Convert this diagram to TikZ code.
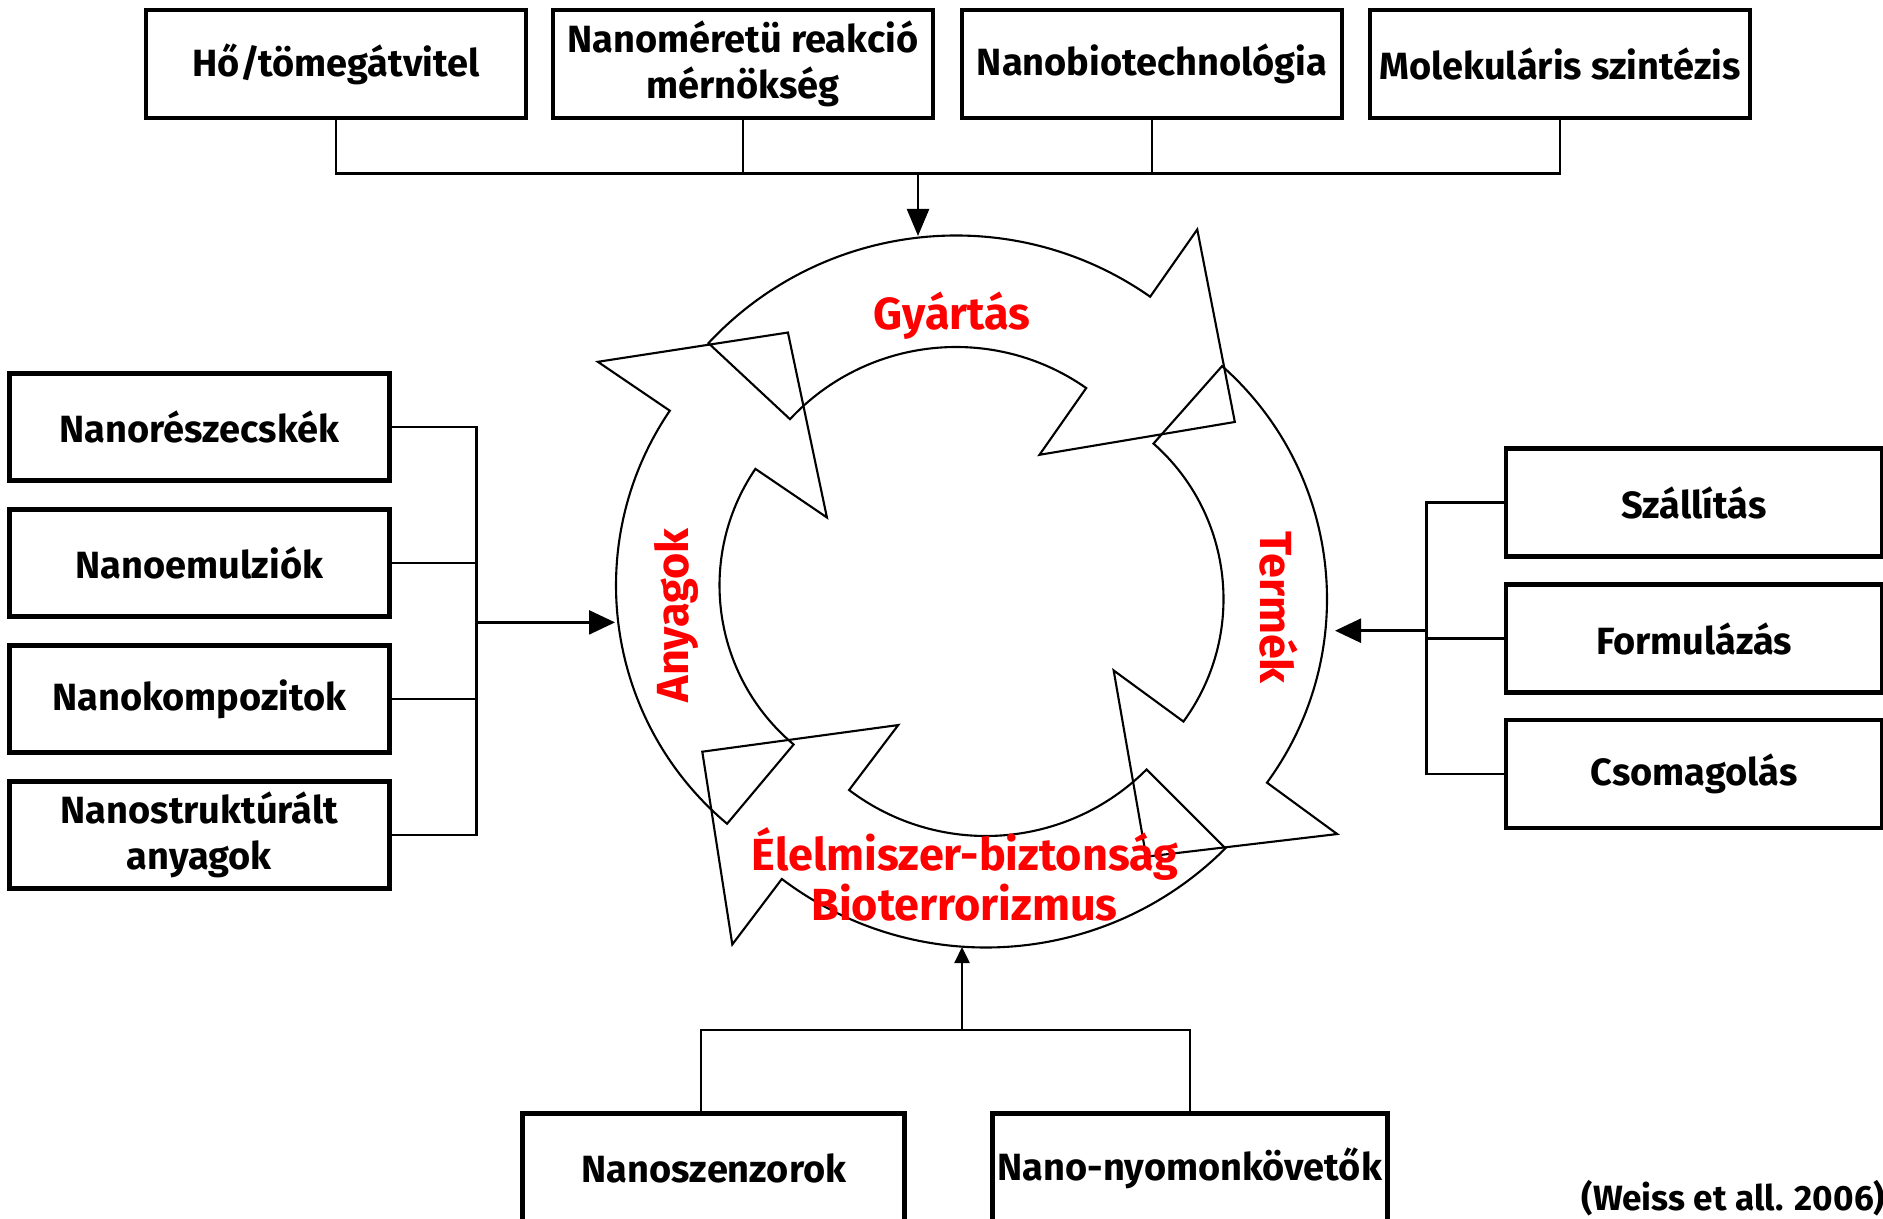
\documentclass[tikz,border=0pt]{standalone}
\usepackage{fontspec}
\setmainfont{Fira Sans}
\usetikzlibrary{arrows.meta}

\tikzset{
  box/.style={draw, line width=1.4pt, minimum width=3.8cm, minimum height=1.08cm,
    inner sep=0pt, align=center, font=\fontsize{10.8}{13}\selectfont\bfseries},
  link/.style={line width=0.7pt},
  feed/.style={line width=0.7pt, -{Triangle[length=2.6mm, width=2.4mm]}},
  smallfeed/.style={line width=0.7pt, -{Triangle[length=1.6mm, width=1.5mm]}},
  ring/.style={line width=0.6pt, line join=miter},
  phase/.style={text=red, inner sep=0pt, font=\fontsize{12.8}{14}\selectfont\bfseries},
}

% curved cycle arrow: centre, tail angle, base angle, tip angle,
% outer radius, inner radius, outer barb, inner barb, tip radius
\newcommand{\ringarrow}[9]{%
  \begin{scope}[shift={(#1)}]
    \draw[ring] (#2:#5) arc[start angle=#2, end angle=#3, radius=#5]
      -- (#3:#7) -- (#4:#9) -- (#3:#8) -- (#3:#6)
      arc[start angle=#3, end angle=#2, radius=#6] -- cycle;
  \end{scope}}

\begin{document}
\begin{tikzpicture}
\useasboundingbox (0,0) rectangle (18.83,-12.19);

% the four cycle arrows
\ringarrow{9.27,-5.855}{230}{145.8}{118.8}{3.11}{2.075}{3.98}{1.21}{2.887}
\ringarrow{9.56,-5.74}{137}{55}{28.6}{3.385}{2.27}{4.206}{1.455}{3.176}
\ringarrow{10.16,-5.99}{48.5}{-36.2}{-63.2}{3.11}{2.075}{3.98}{1.21}{2.887}
\ringarrow{9.86,-6.09}{-45}{-127.1}{-153.3}{3.385}{2.27}{4.206}{1.455}{3.176}

% phase labels
\node[phase, anchor=base] (making) at (9.52,-3.30) {Gyártás};
\node[phase, rotate=90, anchor=base] (materials) at (6.88,-6.156) {Anyagok};
\node[phase, rotate=-90, anchor=base] (product) at (12.60,-6.075) {Termék};
\node[phase, anchor=base] (safety) at (9.65,-8.70) {Élelmiszer-biztonság};
\node[phase, anchor=base] (bioterror) at (9.645,-9.20) {Bioterrorizmus};

% top row
\node[box] (heat) at (3.36,-0.64) {Hő/tömegátvitel};
\node[box] (reactor) at (7.43,-0.64) {Nanoméretü reakció\\mérnökség};
\node[box] (biotech) at (11.52,-0.64) {Nanobiotechnológia};
\node[box] (synth) at (15.60,-0.64) {Molekuláris szintézis};

% left column
\node[box, minimum height=1.07cm] (particles) at (1.994,-4.272) {Nanorészecskék};
\node[box, minimum height=1.07cm] (emulsions) at (1.994,-5.632) {Nanoemulziók};
\node[box, minimum height=1.07cm] (composites) at (1.994,-6.992) {Nanokompozitok};
\node[box, minimum height=1.07cm] (structured) at (1.994,-8.352) {Nanostruktúrált\\anyagok};

% right column
\node[box, minimum width=3.76cm] (transport) at (16.94,-5.025) {Szállítás};
\node[box, minimum width=3.76cm] (formul) at (16.94,-6.385) {Formulázás};
\node[box, minimum width=3.76cm] (packaging) at (16.94,-7.74) {Csomagolás};

% bottom row
\node[box, minimum width=3.82cm, minimum height=1.10cm] (sensors) at (7.139,-11.683) {Nanoszenzorok};
\node[box, minimum width=3.95cm, minimum height=1.10cm] (tracers) at (11.898,-11.683) {Nano-nyomonkövetők};

\node[anchor=base east, inner sep=0pt, font=\fontsize{10}{11}\selectfont\bfseries]
  (source) at (18.86,-12.10) {(Weiss et all. 2006)};

% bus lines
\coordinate (topbus) at (0,-1.733);
\coordinate (leftbus) at (4.767,0);
\coordinate (rightbus) at (14.267,0);
\coordinate (bottombus) at (0,-10.30);
\coordinate (ringtop) at (9.18,-2.36);
\coordinate (ringleft) at (6.15,-6.224);
\coordinate (ringright) at (13.35,-6.307);
\coordinate (ringbottom) at (9.62,-9.47);

\draw[link] (heat.south) |- (synth.south |- topbus) -- (synth.south);
\draw[link] (reactor.south) -- (reactor.south |- topbus);
\draw[link] (biotech.south) -- (biotech.south |- topbus);
\draw[feed, -{Triangle[length=2.7mm, width=2.2mm]}] (ringtop |- topbus) -- (ringtop);

\draw[link] (particles.east) -| (leftbus |- structured.east) -- (structured.east);
\draw[link] (emulsions.east) -- (emulsions.east -| leftbus);
\draw[link] (composites.east) -- (composites.east -| leftbus);
\draw[feed] (leftbus |- ringleft) -- (ringleft);

\draw[link] (transport.west) -| (rightbus |- packaging.west) -- (packaging.west);
\draw[link] (formul.west) -- (formul.west -| rightbus);
\draw[feed] (rightbus |- ringright) -- (ringright);

\draw[link] ([xshift=-1.3mm]sensors.north) |- (tracers.north |- bottombus) -- (tracers.north);
\draw[smallfeed] (ringbottom |- bottombus) -- (ringbottom);
\end{tikzpicture}
\end{document}
